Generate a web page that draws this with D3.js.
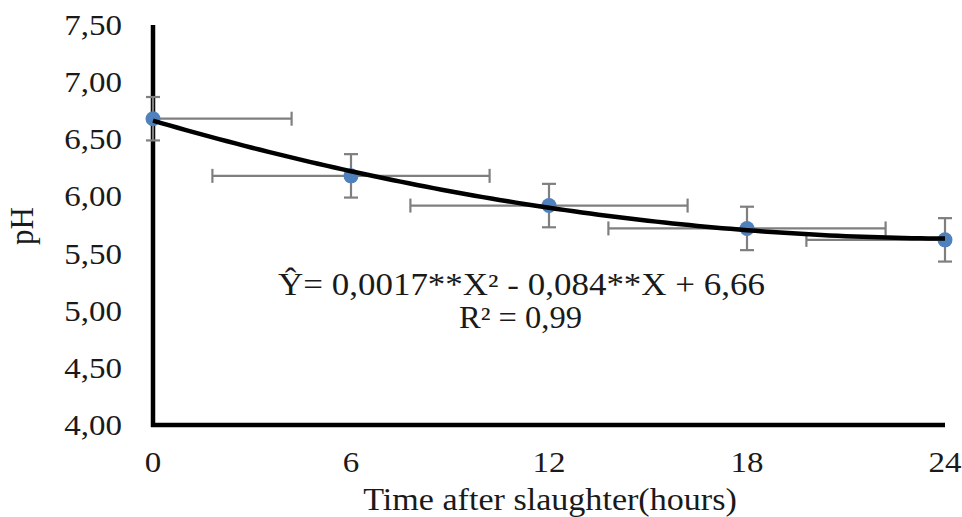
<!DOCTYPE html>
<html>
<head>
<meta charset="utf-8">
<script src="https://cdn.jsdelivr.net/npm/d3@7"></script>
<style>
  html, body { margin: 0; padding: 0; background: #fff; }
  svg { display: block; }
  text { font-family: "Liberation Serif", "Times New Roman", serif; fill: #1a1a1a; }
</style>
</head>
<body>
<svg id="chart" width="962" height="517"></svg>
<script>
// ---- data ----
const hours = [0, 6, 12, 18, 24];
const pH = [6.68, 6.18, 5.92, 5.72, 5.62];
const pHError = [0.19, 0.19, 0.19, 0.19, 0.19];
const hoursError = [4.2, 4.2, 4.2, 4.2, 4.2];
const yTicks = [4.00, 4.50, 5.00, 5.50, 6.00, 6.50, 7.00, 7.50];
const xTicks = [0, 6, 12, 18, 24];
const equationText = "Ŷ= 0,0017**X² - 0,084**X + 6,66";
const r2Text = "R² = 0,99";
const xTitle = "Time after slaughter(hours)";
const yTitle = "pH";

// ---- layout ----
const svg = d3.select("#chart");
const x = d3.scaleLinear().domain([0, 24]).range([153, 945]);
const y = d3.scaleLinear().domain([4, 7.5]).range([425, 25]);
const SX = 1.1; // horizontal text stretch seen in reference
const fmt = v => v.toFixed(2).replace(".", ",");

// quadratic least-squares fit (trendline)
function quadFit(xs, ys) {
  const n = xs.length;
  let s = [0,0,0,0,0], t = [0,0,0];
  for (let i = 0; i < n; i++) {
    for (let k = 0; k < 5; k++) s[k] += Math.pow(xs[i], k);
    for (let k = 0; k < 3; k++) t[k] += ys[i] * Math.pow(xs[i], k);
  }
  const A = [[s[0], s[1], s[2], t[0]], [s[1], s[2], s[3], t[1]], [s[2], s[3], s[4], t[2]]];
  for (let i = 0; i < 3; i++) {
    for (let j = i + 1; j < 3; j++) {
      const f = A[j][i] / A[i][i];
      for (let k = i; k < 4; k++) A[j][k] -= f * A[i][k];
    }
  }
  const c = [0,0,0];
  for (let i = 2; i >= 0; i--) {
    let v = A[i][3];
    for (let k = i + 1; k < 3; k++) v -= A[i][k] * c[k];
    c[i] = v / A[i][i];
  }
  return xv => c[0] + c[1] * xv + c[2] * xv * xv;
}
const fit = quadFit(hours, pH);

// ---- axes ----
svg.append("line").attr("x1", x(0)).attr("x2", x(0)).attr("y1", y(7.5)).attr("y2", y(4) + 2)
  .attr("stroke", "#000").attr("stroke-width", 4.5);
svg.append("line").attr("x1", x(0) - 2).attr("x2", x(24)).attr("y1", y(4)).attr("y2", y(4))
  .attr("stroke", "#000").attr("stroke-width", 4.5);

svg.append("g").selectAll("text").data(yTicks).join("text")
  .attr("transform", d => `translate(122,${y(d) + 10}) scale(${SX},1)`)
  .attr("text-anchor", "end")
  .attr("font-size", 30)
  .text(fmt);

svg.append("g").selectAll("text").data(xTicks).join("text")
  .attr("transform", d => `translate(${x(d)},472) scale(${SX},1)`)
  .attr("text-anchor", "middle")
  .attr("font-size", 30)
  .text(d => d);

svg.append("text")
  .attr("transform", `translate(550,510) scale(${SX},1)`)
  .attr("text-anchor", "middle")
  .attr("font-size", 31)
  .text(xTitle);

svg.append("text")
  .attr("transform", `translate(33,226) scale(${SX},1) rotate(-90)`)
  .attr("text-anchor", "middle")
  .attr("font-size", 31)
  .text(yTitle);

// ---- error bars ----
const eb = svg.append("g").attr("stroke", "#7f7f7f").attr("stroke-width", 2.2);
const cap = 7;
hours.forEach((h, i) => {
  const cx = x(h), cy = y(pH[i]);
  const yt = y(pH[i] + pHError[i]), yb = y(pH[i] - pHError[i]);
  eb.append("line").attr("x1", cx).attr("x2", cx).attr("y1", yt).attr("y2", yb);
  eb.append("line").attr("x1", cx - cap).attr("x2", cx + cap).attr("y1", yt).attr("y2", yt);
  eb.append("line").attr("x1", cx - cap).attr("x2", cx + cap).attr("y1", yb).attr("y2", yb);
  const lo = h - hoursError[i], hi = h + hoursError[i];
  const xl = x(Math.max(0, lo)), xr = x(Math.min(24, hi));
  eb.append("line").attr("x1", xl).attr("x2", xr).attr("y1", cy).attr("y2", cy);
  if (lo >= 0) eb.append("line").attr("x1", xl).attr("x2", xl).attr("y1", cy - cap).attr("y2", cy + cap);
  if (hi <= 24) eb.append("line").attr("x1", xr).attr("x2", xr).attr("y1", cy - cap).attr("y2", cy + cap);
});

// ---- markers ----
svg.append("g").selectAll("circle").data(hours).join("circle")
  .attr("cx", d => x(d)).attr("cy", (d, i) => y(pH[i])).attr("r", 7.5)
  .attr("fill", "#4F81BD");

// ---- trendline ----
const samples = d3.range(0, 24.001, 0.25);
svg.append("path")
  .datum(samples)
  .attr("d", d3.line().x(d => x(d)).y(d => y(fit(d))))
  .attr("fill", "none").attr("stroke", "#000").attr("stroke-width", 4.5);

// ---- equation ----
svg.append("text")
  .attr("x", 278).attr("y", 295)
  .attr("font-size", 31)
  .attr("textLength", 487).attr("lengthAdjust", "spacingAndGlyphs")
  .text(equationText);
svg.append("text")
  .attr("x", 459).attr("y", 328)
  .attr("font-size", 31)
  .attr("textLength", 123).attr("lengthAdjust", "spacingAndGlyphs")
  .text(r2Text);
</script>
</body>
</html>
